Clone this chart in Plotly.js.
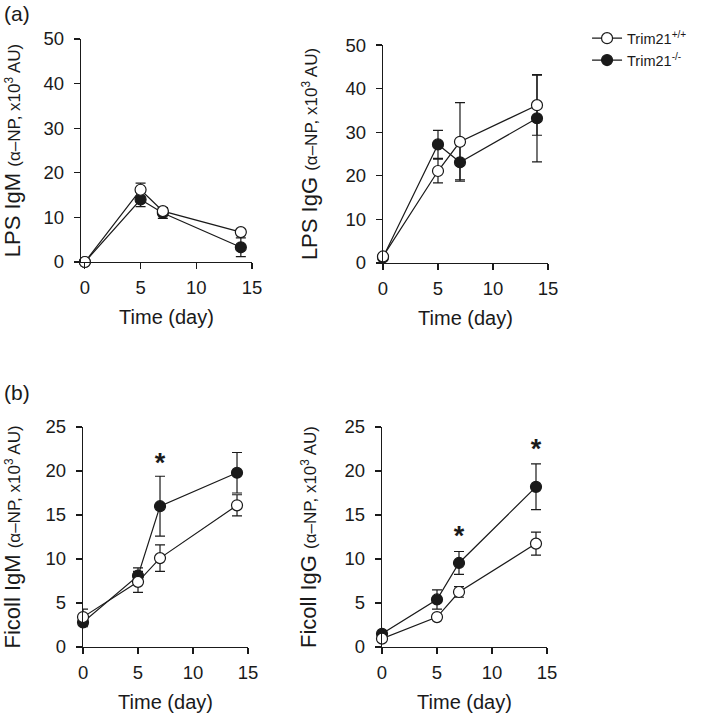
<!DOCTYPE html>
<html>
<head>
<meta charset="utf-8">
<script src="https://cdn.plot.ly/plotly-3.0.1.min.js"></script>
<style>
  html, body { margin: 0; padding: 0; background: #fff; }
  #chart { width: 709px; height: 718px; }
</style>
</head>
<body>
<div id="chart"></div>
<script>
// Days after immunisation
const days = [0, 5, 7, 14];

// (a) LPS immunisation
const lpsIgmWt = [0, 16.2, 11.4, 6.7];
const lpsIgmWtErr = [0, 1.5, 0.8, 0.6];
const lpsIgmKo = [0, 14.0, 11.0, 3.3];
const lpsIgmKoErr = [0, 1.6, 1.2, 2.1];

const lpsIggWt = [1.5, 21.1, 27.8, 36.2];
const lpsIggWtErr = [0, 2.7, 9.0, 6.9];
const lpsIggKo = [1.3, 27.2, 23.1, 33.2];
const lpsIggKoErr = [0, 3.2, 4.0, 10.0];

// (b) Ficoll immunisation
const ficIgmWt = [3.4, 7.4, 10.1, 16.1];
const ficIgmWtErr = [0.9, 1.2, 1.5, 1.2];
const ficIgmKo = [2.8, 8.1, 16.0, 19.8];
const ficIgmKoErr = [0.5, 0.9, 3.4, 2.3];

const ficIggWt = [0.95, 3.4, 6.25, 11.75];
const ficIggWtErr = [0.3, 0.3, 0.6, 1.3];
const ficIggKo = [1.5, 5.4, 9.55, 18.2];
const ficIggKoErr = [0.3, 1.1, 1.3, 2.6];

// significance marks
const starIgmX = [7];
const starIgmY = [20.6];
const starIggX = [7, 14];
const starIggY = [12.3, 22.3];

const ink = '#1a1a1a';

function series(x, y, err, filled, xa, ya, name, show) {
  return {
    x: x, y: y, xaxis: xa, yaxis: ya,
    mode: 'lines+markers',
    name: name,
    showlegend: show,
    legendrank: filled ? 2 : 1,
    line: { color: ink, width: 1.2 },
    marker: {
      symbol: 'circle', size: 11,
      color: filled ? ink : '#ffffff',
      line: { color: ink, width: 1.2 }
    },
    error_y: { type: 'data', array: err, visible: true, color: ink, thickness: 1.2, width: 5 },
    cliponaxis: false
  };
}

function stars(x, y, xa, ya) {
  return {
    x: x, y: y, xaxis: xa, yaxis: ya,
    mode: 'text', text: x.map(() => '*'),
    textfont: { family: 'Liberation Sans, Arial, sans-serif', size: 27, weight: 'bold', color: ink },
    showlegend: false, hoverinfo: 'skip', cliponaxis: false
  };
}

const wtName = 'Trim21<sup>+/+</sup>';
const koName = 'Trim21<sup>-/-</sup>';

const data = [
  series(days, lpsIgmKo, lpsIgmKoErr, true, 'x', 'y', koName, true),
  series(days, lpsIgmWt, lpsIgmWtErr, false, 'x', 'y', wtName, true),
  series(days, lpsIggKo, lpsIggKoErr, true, 'x2', 'y2', koName, false),
  series(days, lpsIggWt, lpsIggWtErr, false, 'x2', 'y2', wtName, false),
  series(days, ficIgmKo, ficIgmKoErr, true, 'x3', 'y3', koName, false),
  series(days, ficIgmWt, ficIgmWtErr, false, 'x3', 'y3', wtName, false),
  series(days, ficIggKo, ficIggKoErr, true, 'x4', 'y4', koName, false),
  series(days, ficIggWt, ficIggWtErr, false, 'x4', 'y4', wtName, false),
  stars(starIgmX, starIgmY, 'x3', 'y3'),
  stars(starIggX, starIggY, 'x4', 'y4')
];

const font = { family: 'Liberation Sans, Arial, sans-serif', color: ink };

function xAxis(domain, anchor, range) {
  return {
    domain: domain, anchor: anchor, range: range,
    tickvals: [0, 5, 10, 15],
    ticks: 'outside', ticklen: 6, tickwidth: 1.2, tickcolor: ink,
    showline: true, linecolor: ink, linewidth: 1.2,
    showgrid: false, zeroline: false,
    tickfont: { size: 18.5 }, ticklabelstandoff: 3,
    title: { text: 'Time (day)', font: { size: 20 }, standoff: 12 }
  };
}

function yAxis(domain, anchor, range, dtick, title) {
  return {
    domain: domain, anchor: anchor, range: range, dtick: dtick,
    ticks: 'outside', ticklen: 6, tickwidth: 1.2, tickcolor: ink,
    showline: true, linecolor: ink, linewidth: 1.2,
    showgrid: false, zeroline: false,
    tickfont: { size: 18.5 }, ticklabelstandoff: 6,
    title: {
      text: title + ' <span style="font-size:17px">(α–NP, x10<sup>3</sup> AU)</span>',
      font: { size: 22 }, standoff: 21
    }
  };
}

const layout = {
  width: 709, height: 718,
  margin: { l: 0, r: 0, t: 0, b: 0 },
  paper_bgcolor: '#ffffff', plot_bgcolor: '#ffffff',
  font: font,
  showlegend: true,
  legend: {
    x: 0.828, y: 0.969, xanchor: 'left', yanchor: 'top',
    font: { size: 14.5 }, bgcolor: 'rgba(0,0,0,0)', tracegroupgap: 0
  },
  xaxis: xAxis([0.1142, 0.3554], 'y', [-0.35, 15]),
  yaxis: yAxis([0.6351, 0.9457], 'x', [0, 50], 10, 'LPS IgM'),
  xaxis2: xAxis([0.5402, 0.7729], 'y2', [0, 15]),
  yaxis2: yAxis([0.6337, 0.9373], 'x2', [0, 50], 10, 'LPS IgG'),
  xaxis3: xAxis([0.1171, 0.3498], 'y3', [0, 15]),
  yaxis3: yAxis([0.0989, 0.4053], 'x3', [0, 25], 5, 'Ficoll IgM'),
  xaxis4: xAxis([0.5388, 0.7715], 'y4', [0, 15]),
  yaxis4: yAxis([0.0989, 0.4053], 'x4', [0, 25], 5, 'Ficoll IgG'),
  annotations: [
    { text: '(a)', xref: 'paper', yref: 'paper', x: 0.003, y: 1.0, xanchor: 'left', yanchor: 'top', showarrow: false, font: { size: 21 } },
    { text: '(b)', xref: 'paper', yref: 'paper', x: 0.003, y: 0.472, xanchor: 'left', yanchor: 'top', showarrow: false, font: { size: 21 } }
  ]
};

Plotly.newPlot('chart', data, layout, { displayModeBar: false, staticPlot: true });
</script>
</body>
</html>
